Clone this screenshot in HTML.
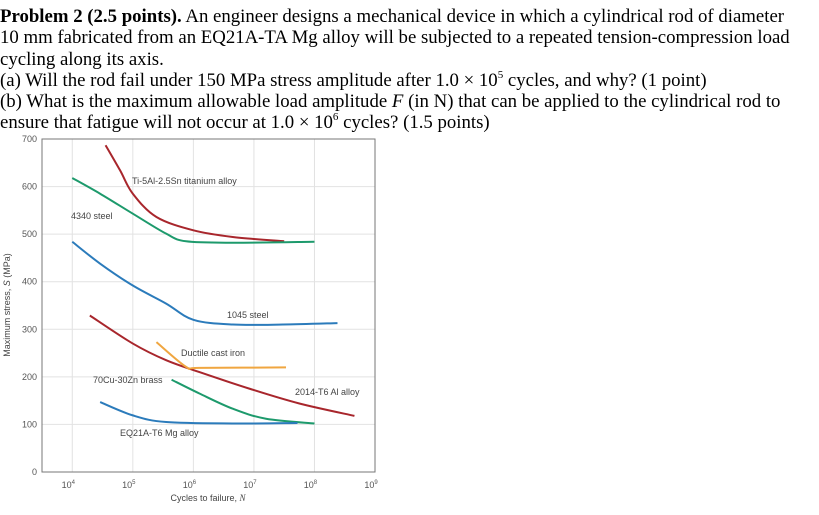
<!DOCTYPE html>
<html><head><meta charset="utf-8"><style>
body{margin:0;background:#fff;width:819px;height:515px;overflow:hidden;position:relative}
#q{position:absolute;left:0;top:6px;width:819px;font-family:"Liberation Serif",serif;font-size:18.8px;line-height:21.3px;color:#000;white-space:nowrap}
#q sup{font-size:11px;line-height:0;position:relative;top:-1px}
svg{position:absolute;left:0;top:0}
</style></head><body>
<div id="q"><b>Problem 2 (2.5 points).</b> An engineer designs a mechanical device in which a cylindrical rod of diameter<br>10 mm fabricated from an EQ21A-TA Mg alloy will be subjected to a repeated tension-compression load<br>cycling along its axis.<br>(a) Will the rod fail under 150 MPa stress amplitude after 1.0 × 10<sup>5</sup> cycles, and why? (1 point)<br>(b) What is the maximum allowable load amplitude <i>F</i> (in N) that can be applied to the cylindrical rod to<br>ensure that fatigue will not occur at 1.0 × 10<sup>6</sup> cycles? (1.5 points)</div>
<svg id="c" width="819" height="515" font-family="Liberation Sans, sans-serif"></svg>
<script>
const yTicks=[0,100,200,300,400,500,600,700];
const xTicks=[4,5,6,7,8,9];
const tiX=[4.55,4.79,5.0,5.39,6.0,6.65,7.5], tiY=[687,634,585,536,508,494,485];
const s4340X=[4,4.46,5.0,5.55,5.88,6.65,8.0], s4340Y=[618,585,543,501,485,482,484];
const s1045X=[4,4.46,5.0,5.55,6.0,6.65,7.48,8.38], s1045Y=[484,438,392,354,320,310,310,313];
const alX=[4.29,5.0,5.55,6.1,6.93,7.75,8.66], alY=[329,270,235,210,175,144,118];
const ironX=[5.39,5.88,6.1,7.53], ironY=[273,221,219,220];
const brassX=[5.64,6.1,6.65,7.2,8.0], brassY=[194,165,133,112,102];
const mgX=[4.46,5.0,5.55,6.65,7.72], mgY=[147,119,105,102,103];
const X=l=>42+(l-3.5)*60.55, Y=v=>472-v*0.4757;
const svg=document.getElementById('c'),NS='http://www.w3.org/2000/svg';
function el(t,a,p){const e=document.createElementNS(NS,t);for(const k in a)e.setAttribute(k,a[k]);(p||svg).appendChild(e);return e;}
yTicks.forEach(v=>{
 const g=el('line',{x1:42,x2:375,y1:Y(v),y2:Y(v),stroke:'#e2e2e2','stroke-width':1});
 
 
 const t=el('text',{x:37,y:Y(v)+3,'font-size':9,fill:'#555','text-anchor':'end'});t.textContent=v;
 
 
});
xTicks.forEach(v=>{
 const g=el('line',{x1:X(v),x2:X(v),y1:139,y2:472,stroke:'#e2e2e2','stroke-width':1});
 
 
 const t=el('text',{x:X(v)-4,y:488,'font-size':9,fill:'#555','text-anchor':'middle'});t.textContent='10';
 
 
 const s=el('tspan',{dx:0,dy:-4,'font-size':6},t);s.textContent=v;
});
const fr=el('rect',{x:42,y:139,width:333,height:333,fill:'none',stroke:'#777','stroke-width':1});


function curve(xs,ys,col,name){
 const p=xs.map((x,i)=>[X(x),Y(ys[i])]);let d='M'+p[0];
 for(let i=0;i<p.length-1;i++){const a=p[i-1]||p[i],b=p[i],c=p[i+1],e=p[i+2]||c;
  d+=' C'+(b[0]+(c[0]-a[0])/6)+','+(b[1]+(c[1]-a[1])/6)+' '+(c[0]-(e[0]-b[0])/6)+','+(c[1]-(e[1]-b[1])/6)+' '+c;}
 const e=el('path',{d:d,fill:'none',stroke:col,'stroke-width':2});
 
 
}
curve(tiX,tiY,'#a8262c','ti-alloy-curve');
curve(s4340X,s4340Y,'#1d9a6c','steel-4340-curve');
curve(s1045X,s1045Y,'#2b7bbb','steel-1045-curve');
curve(alX,alY,'#a8262c','al-2014-curve');
curve(ironX,ironY,'#f0a640','ductile-iron-curve');
curve(brassX,brassY,'#1d9a6c','brass-curve');
curve(mgX,mgY,'#2b7bbb','mg-alloy-curve');
[['Ti-5Al-2.5Sn titanium alloy',132,184],['4340 steel',71,219],['1045 steel',227,318],['Ductile cast iron',181,356],['70Cu-30Zn brass',93,383],['2014-T6 Al alloy',295,395],['EQ21A-T6 Mg alloy',120,436]].forEach(a=>{
 const t=el('text',{x:a[1],y:a[2],'font-size':9,fill:'#444'});t.textContent=a[0];
 
 
});
const xt=el('text',{x:208,y:501,'font-size':9,fill:'#444','text-anchor':'middle'});xt.innerHTML='Cycles to failure, <tspan font-style="italic" font-family="Liberation Serif">N</tspan>';


const yt=el('text',{x:0,y:0,'font-size':9,fill:'#444','text-anchor':'middle',transform:'translate(10,305) rotate(-90)'});yt.innerHTML='Maximum stress, <tspan font-style="italic">S</tspan> (MPa)';


</script>
</body></html>
